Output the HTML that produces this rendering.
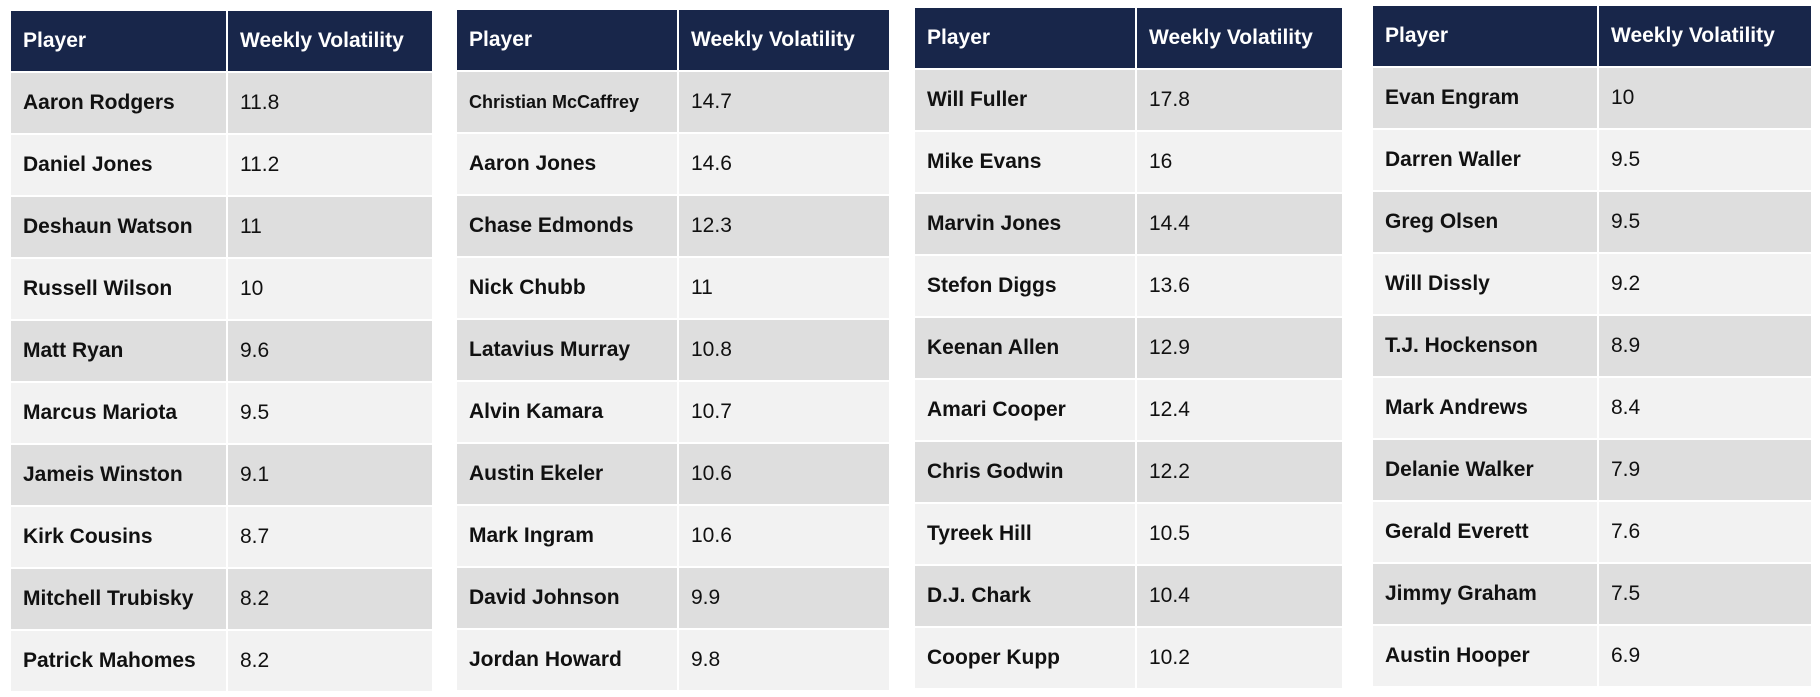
<!DOCTYPE html>
<html><head><style>
body{margin:0;width:1820px;height:697px;background:#fff;position:relative;overflow:hidden;font-family:"Liberation Sans",Arial,sans-serif}
table{position:absolute;border-collapse:collapse;table-layout:fixed}
td,th{padding:0 0 0 12px;text-align:left;border:2px solid #fff;white-space:nowrap;overflow:hidden;box-sizing:border-box}
th{background:#18264a;color:#fff;font-weight:bold;font-size:21px;height:62px}
td{height:62px;font-size:21px;color:#111}
td:first-child{font-weight:bold}
tr:nth-child(even) td{background:#dedede}
tr:nth-child(odd) td{background:#f2f2f2}
</style></head><body>
<table style="left:9px;top:9px;width:425px"><colgroup><col style="width:217px"><col></colgroup>
<tr><th>Player</th><th>Weekly Volatility</th></tr>
<tr><td>Aaron Rodgers</td><td>11.8</td></tr>
<tr><td>Daniel Jones</td><td>11.2</td></tr>
<tr><td>Deshaun Watson</td><td>11</td></tr>
<tr><td>Russell Wilson</td><td>10</td></tr>
<tr><td>Matt Ryan</td><td>9.6</td></tr>
<tr><td>Marcus Mariota</td><td>9.5</td></tr>
<tr><td>Jameis Winston</td><td>9.1</td></tr>
<tr><td>Kirk Cousins</td><td>8.7</td></tr>
<tr><td>Mitchell Trubisky</td><td>8.2</td></tr>
<tr><td>Patrick Mahomes</td><td>8.2</td></tr>
</table>
<table style="left:455px;top:8px;width:436px"><colgroup><col style="width:222px"><col></colgroup>
<tr><th>Player</th><th>Weekly Volatility</th></tr>
<tr><td style="font-size:18px">Christian McCaffrey</td><td>14.7</td></tr>
<tr><td>Aaron Jones</td><td>14.6</td></tr>
<tr><td>Chase Edmonds</td><td>12.3</td></tr>
<tr><td>Nick Chubb</td><td>11</td></tr>
<tr><td>Latavius Murray</td><td>10.8</td></tr>
<tr><td>Alvin Kamara</td><td>10.7</td></tr>
<tr><td>Austin Ekeler</td><td>10.6</td></tr>
<tr><td>Mark Ingram</td><td>10.6</td></tr>
<tr><td>David Johnson</td><td>9.9</td></tr>
<tr><td>Jordan Howard</td><td>9.8</td></tr>
</table>
<table style="left:913px;top:6px;width:431px"><colgroup><col style="width:222px"><col></colgroup>
<tr><th>Player</th><th>Weekly Volatility</th></tr>
<tr><td>Will Fuller</td><td>17.8</td></tr>
<tr><td>Mike Evans</td><td>16</td></tr>
<tr><td>Marvin Jones</td><td>14.4</td></tr>
<tr><td>Stefon Diggs</td><td>13.6</td></tr>
<tr><td>Keenan Allen</td><td>12.9</td></tr>
<tr><td>Amari Cooper</td><td>12.4</td></tr>
<tr><td>Chris Godwin</td><td>12.2</td></tr>
<tr><td>Tyreek Hill</td><td>10.5</td></tr>
<tr><td>D.J. Chark</td><td>10.4</td></tr>
<tr><td>Cooper Kupp</td><td>10.2</td></tr>
</table>
<table style="left:1371px;top:4px;width:442px"><colgroup><col style="width:226px"><col></colgroup>
<tr><th>Player</th><th>Weekly Volatility</th></tr>
<tr><td>Evan Engram</td><td>10</td></tr>
<tr><td>Darren Waller</td><td>9.5</td></tr>
<tr><td>Greg Olsen</td><td>9.5</td></tr>
<tr><td>Will Dissly</td><td>9.2</td></tr>
<tr><td>T.J. Hockenson</td><td>8.9</td></tr>
<tr><td>Mark Andrews</td><td>8.4</td></tr>
<tr><td>Delanie Walker</td><td>7.9</td></tr>
<tr><td>Gerald Everett</td><td>7.6</td></tr>
<tr><td>Jimmy Graham</td><td>7.5</td></tr>
<tr><td>Austin Hooper</td><td>6.9</td></tr>
</table>
</body></html>
